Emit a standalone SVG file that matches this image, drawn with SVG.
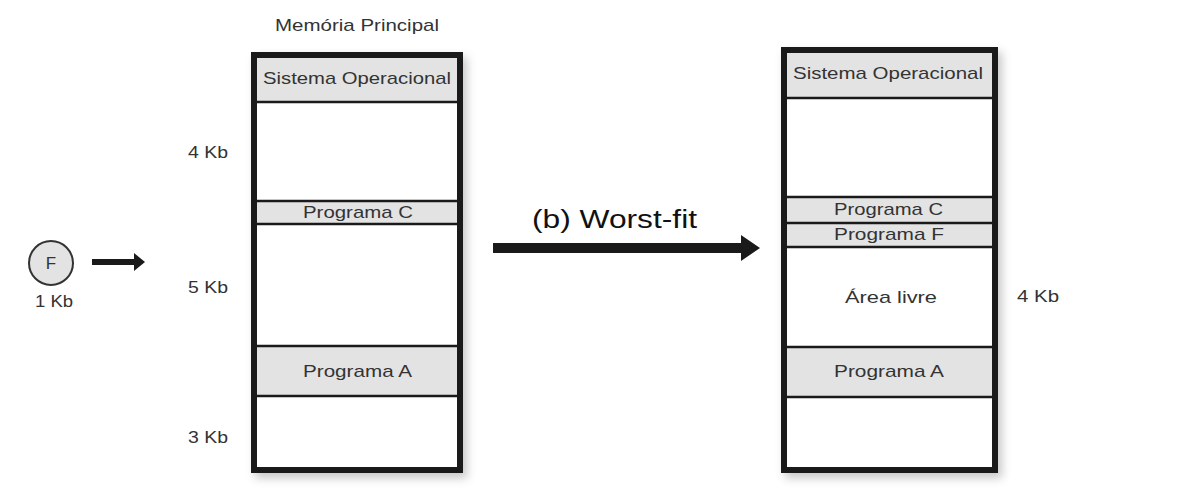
<svg xmlns="http://www.w3.org/2000/svg" width="1178" height="490" viewBox="0 0 1178 490">
<defs>
<filter id="sh" x="-10%" y="-10%" width="130%" height="130%">
<feDropShadow dx="4" dy="5" stdDeviation="5" flood-color="#000" flood-opacity="0.22"/>
</filter>
</defs>
<style>
text{font-family:"Liberation Sans",Arial,sans-serif;fill:#333;}
.lbl{font-size:17px;}
.kb{font-size:16px;}
.frame{fill:#fff;stroke:#1a1a1a;stroke-width:6;}
.gray{fill:#e3e3e3;}
.sep{stroke:#1a1a1a;stroke-width:2.5;}
.arr{fill:#1a1a1a;}
</style>
<rect width="1178" height="490" fill="#fff"/>

<g id="title">
<text x="275" y="31" font-size="17" textLength="164" lengthAdjust="spacingAndGlyphs">Memória Principal</text>
</g>

<g id="mem-left">
<rect class="frame" x="254" y="55" width="206" height="415" filter="url(#sh)"/>
<rect class="gray" x="257" y="58" width="200" height="44"/>
<rect class="gray" x="257" y="201" width="200" height="23"/>
<rect class="gray" x="257" y="346" width="200" height="50"/>
<line class="sep" x1="257" y1="102" x2="457" y2="102"/>
<line class="sep" x1="257" y1="201" x2="457" y2="201"/>
<line class="sep" x1="257" y1="224" x2="457" y2="224"/>
<line class="sep" x1="257" y1="346" x2="457" y2="346"/>
<line class="sep" x1="257" y1="396" x2="457" y2="396"/>
<rect x="254" y="55" width="206" height="415" fill="none" stroke="#1a1a1a" stroke-width="6"/>
<text class="lbl" x="263" y="84" font-size="18" textLength="188" lengthAdjust="spacingAndGlyphs">Sistema Operacional</text>
<text class="lbl" x="303" y="218" textLength="110" lengthAdjust="spacingAndGlyphs">Programa C</text>
<text class="lbl" x="303" y="377" textLength="109" lengthAdjust="spacingAndGlyphs">Programa A</text>
</g>

<g id="sizes-left">
<text class="kb" x="188" y="158" textLength="40" lengthAdjust="spacingAndGlyphs">4 Kb</text>
<text class="kb" x="188" y="293" textLength="40" lengthAdjust="spacingAndGlyphs">5 Kb</text>
<text class="kb" x="188" y="443" textLength="40" lengthAdjust="spacingAndGlyphs">3 Kb</text>
</g>

<g id="proc-f">
<circle cx="51" cy="263" r="22" fill="#e3e3e3" stroke="#333" stroke-width="2"/>
<text x="51" y="269" font-size="17" text-anchor="middle">F</text>
<text class="kb" x="35" y="307" textLength="38" lengthAdjust="spacingAndGlyphs">1 Kb</text>
</g>

<g id="worst-fit-label">
<text x="532" y="228" font-size="25" style="fill:#111" textLength="165" lengthAdjust="spacingAndGlyphs">(b) Worst-fit</text>
</g>

<g id="mem-right">
<rect class="frame" x="784" y="50" width="211" height="420" filter="url(#sh)"/>
<rect class="gray" x="787" y="53" width="205" height="45"/>
<rect class="gray" x="787" y="197" width="205" height="50"/>
<rect class="gray" x="787" y="347" width="205" height="50"/>
<line class="sep" x1="787" y1="98" x2="992" y2="98"/>
<line class="sep" x1="787" y1="197" x2="992" y2="197"/>
<line class="sep" x1="787" y1="223" x2="992" y2="223"/>
<line class="sep" x1="787" y1="247" x2="992" y2="247"/>
<line class="sep" x1="787" y1="347" x2="992" y2="347"/>
<line class="sep" x1="787" y1="397" x2="992" y2="397"/>
<rect x="784" y="50" width="211" height="420" fill="none" stroke="#1a1a1a" stroke-width="6"/>
<text class="lbl" x="793" y="79" font-size="18" textLength="190" lengthAdjust="spacingAndGlyphs">Sistema Operacional</text>
<text class="lbl" x="834" y="215" textLength="109" lengthAdjust="spacingAndGlyphs">Programa C</text>
<text class="lbl" x="834" y="240" textLength="110" lengthAdjust="spacingAndGlyphs">Programa F</text>
<text class="lbl" x="845" y="303" textLength="92" lengthAdjust="spacingAndGlyphs">Área livre</text>
<text class="lbl" x="834" y="377" textLength="110" lengthAdjust="spacingAndGlyphs">Programa A</text>
</g>

<g id="sizes-right">
<text class="kb" x="1017" y="302" textLength="42" lengthAdjust="spacingAndGlyphs">4 Kb</text>
</g>

<g id="connectors">
<polygon class="arr" points="92,259 134,259 134,253 145,262 134,271 134,265 92,265"/>
<polygon class="arr" points="493,243 741,243 741,235 760,248 741,261 741,253 493,253"/>
</g>
</svg>
